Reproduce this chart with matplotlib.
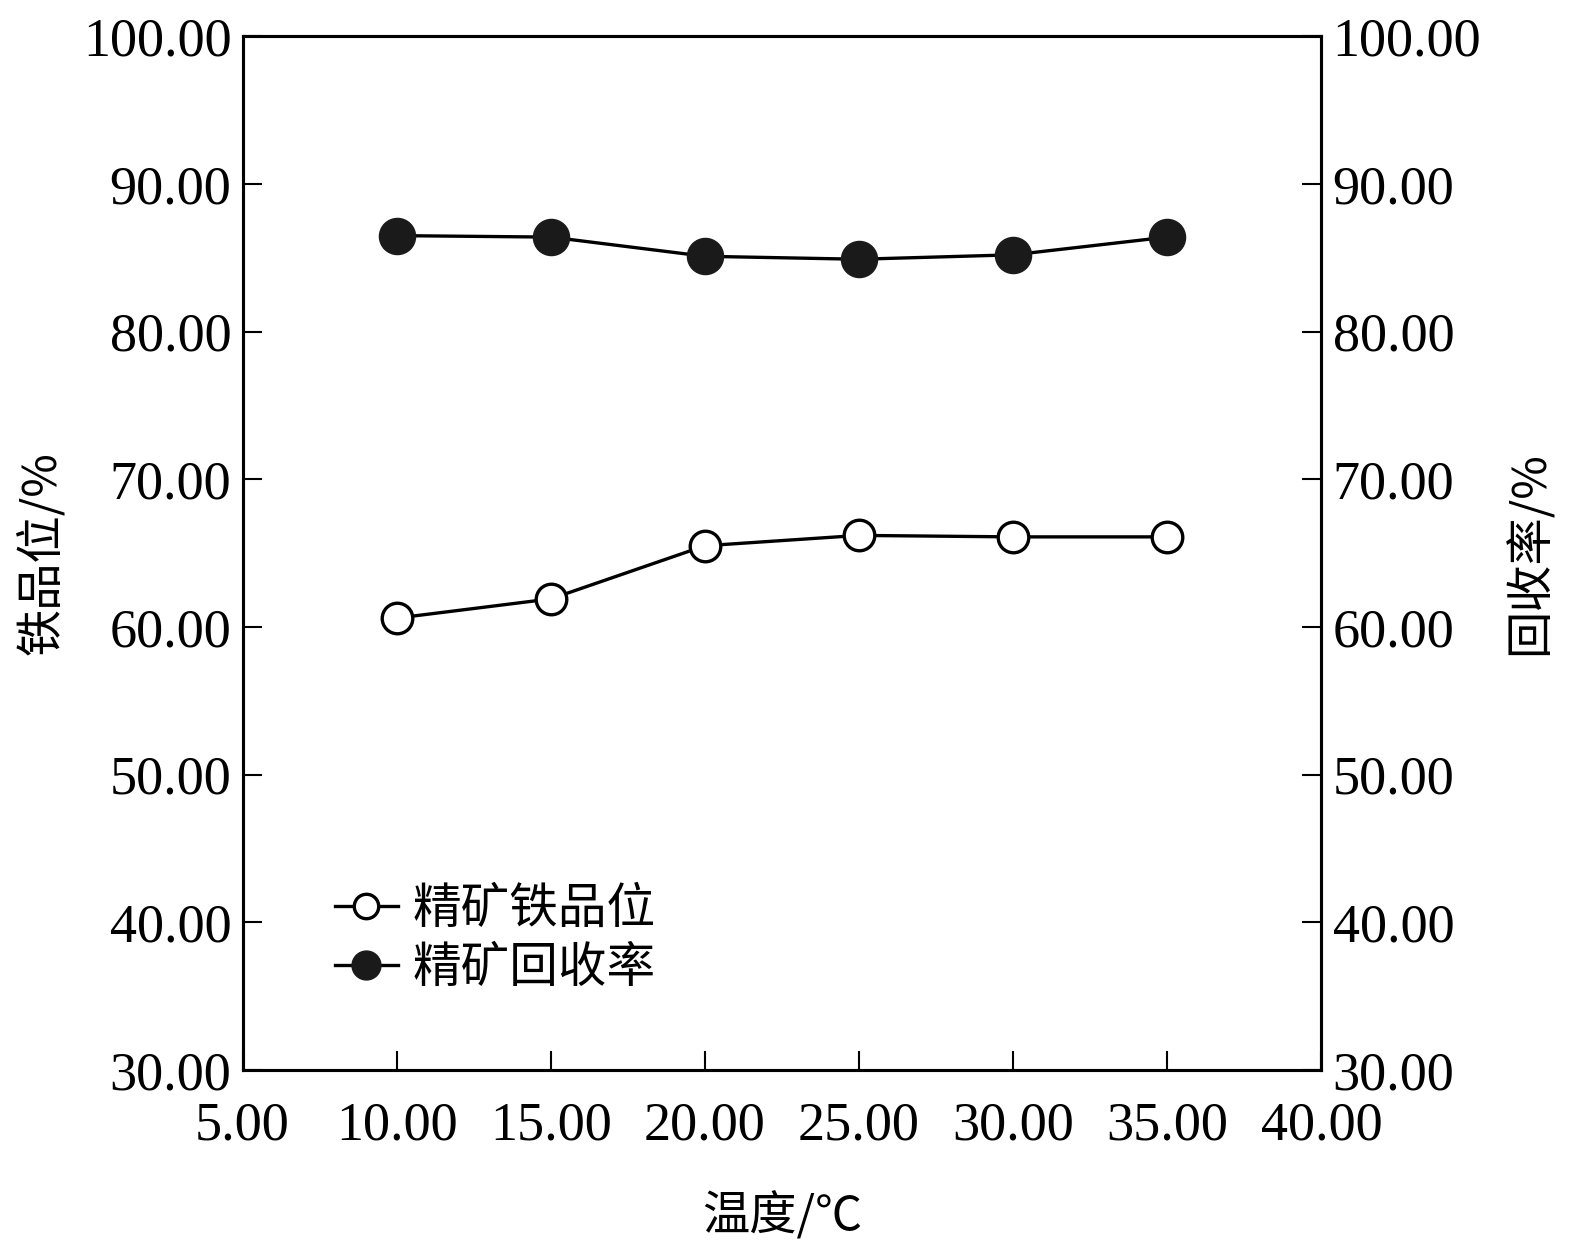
import matplotlib.pyplot as plt
from matplotlib.ticker import FormatStrFormatter

# data
temperature = [10, 15, 20, 25, 30, 35]
fe_grade = [60.6, 61.9, 65.5, 66.2, 66.1, 66.1]
recovery = [86.5, 86.4, 85.1, 84.9, 85.2, 86.4]

x_ticks = [5, 10, 15, 20, 25, 30, 35, 40]
y_ticks = [30, 40, 50, 60, 70, 80, 90, 100]

plt.rcParams['font.family'] = ['Liberation Serif', 'Noto Sans CJK SC']
cjk = ['Noto Sans CJK SC', 'Liberation Serif']

fig = plt.figure(figsize=(15.75, 12.5), dpi=100)
ax1 = fig.add_axes([0.154, 0.144, 0.685, 0.827])
ax2 = ax1.twinx()

l1, = ax1.plot(temperature, fe_grade, 'o-', color='black', mfc='white',
               mec='black', mew=2.4, ms=22, lw=2.4, label='精矿铁品位')
l2, = ax2.plot(temperature, recovery, 'o-', color='black', mfc='#1a1a1a',
               mec='#1a1a1a', ms=26, lw=2.4, label='精矿回收率')

for ax in (ax1, ax2):
    ax.set_ylim(30, 100)
    ax.set_yticks(y_ticks)
    ax.yaxis.set_major_formatter(FormatStrFormatter('%.2f'))
    ax.tick_params(direction='in', length=14, width=1.5, labelsize=39, pad=8)
    for s in ax.spines.values():
        s.set_linewidth(2.2)

ax1.set_xlim(5, 40)
ax1.set_xticks(x_ticks)
ax1.xaxis.set_major_formatter(FormatStrFormatter('%.2f'))
ax1.tick_params(axis='x', pad=22)

ax1.set_xlabel('温度/℃', family=cjk, fontsize=34, labelpad=30)
ax1.set_ylabel('铁品位/%', family=cjk, fontsize=34, labelpad=12)
ax2.set_ylabel('回收率/%', family=cjk, fontsize=34, labelpad=18)

ax1.legend(handles=[l1, l2], loc='upper left', bbox_to_anchor=(0.045, 0.222),
           frameon=False, prop={'family': cjk, 'size': 35},
           handlelength=1.3, handletextpad=0.3, labelspacing=0.2,
           markerscale=0.8)

fig.savefig('out.png', dpi=100)
